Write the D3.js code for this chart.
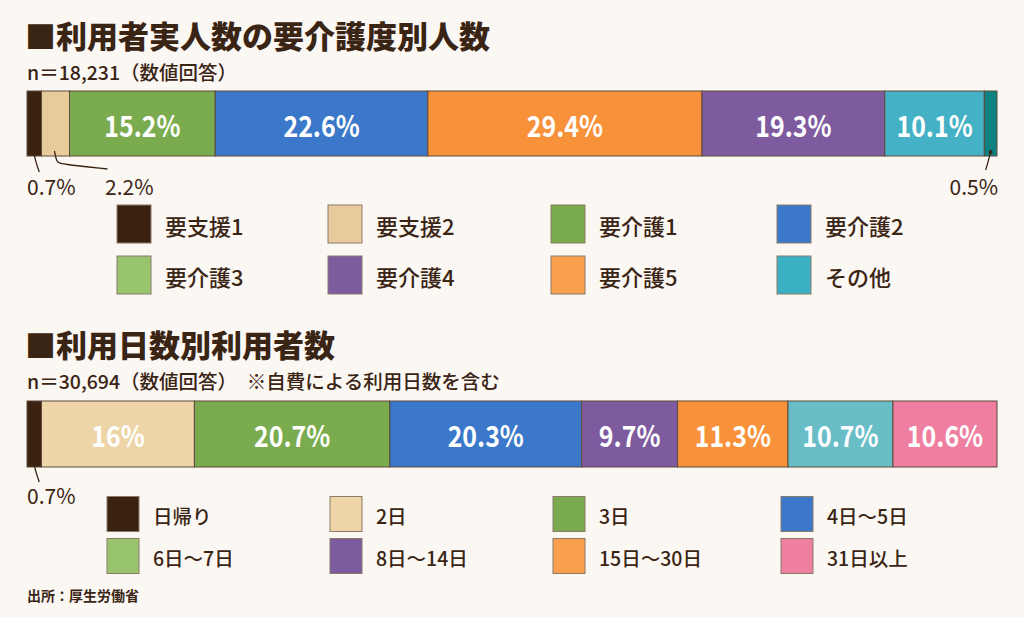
<!DOCTYPE html>
<html>
<head>
<meta charset="utf-8">
<script src="https://cdn.jsdelivr.net/npm/d3@7"></script>
<style>
html,body{margin:0;padding:0;background:#fbf7f3;}
svg{display:block;font-family:"Noto Sans CJK JP","Noto Sans",sans-serif;}
</style>
</head>
<body>
<div id="chart"></div>
<script>
// 要介護度別
const careKeys = ["要支援1","要支援2","要介護1","要介護2","要介護3","要介護4","要介護5","その他"];
const careValues = [0.7,2.2,15.2,22.6,29.4,19.3,10.1,0.5];
const careBarColors = ["#3b2210","#e8cb9a","#7aab4f","#3c78c9","#f8923a","#7e5b9e","#45b1c6","#0e8282"];
const careLegendColors = ["#3b2210","#e8cb9a","#7aab4f","#3c78c9","#97c46c","#7e5b9e","#f9a04f","#3bb0c4"];

// 利用日数別
const dayKeys = ["日帰り","2日","3日","4日～5日","8日～14日","15日～30日","6日～7日","31日以上"];
const dayValues = [0.7,16,20.7,20.3,9.7,11.3,10.7,10.6];
const dayBarColors = ["#3b2210","#eed5a8","#7aab4f","#3c78c9","#7e5b9e","#f8923a","#69bdc7","#ee7fa0"];
const dayLegendKeys = ["日帰り","2日","3日","4日～5日","6日～7日","8日～14日","15日～30日","31日以上"];
const dayLegendColors = ["#3b2210","#eed5a8","#7aab4f","#3c78c9","#97c46c","#7e5b9e","#f9a04f","#ee7fa0"];

const width = 1024, height = 617;
const ink = "#3a2414";

const svg = d3.select("#chart")
  .append("svg")
  .attr("width", width)
  .attr("height", height);

svg.append("rect")
  .attr("width", width)
  .attr("height", height)
  .attr("fill", "#fbf7f3");

// 各区分に少し幅を足して小さい値も見えるようにする
const base = 0.9;

function layout(values){
  let acc = 0;
  return values.map((v,i)=>{
    const d = {i, v, x0: acc, x1: acc + v + base};
    acc = d.x1;
    return d;
  });
}

function fmt(v){
  return (Number.isInteger(v) ? v : v.toFixed(1)) + "%";
}

function drawBar(values, colors, top, h){
  const segs = layout(values);
  const x = d3.scaleLinear()
    .domain([0, d3.max(segs, d=>d.x1)])
    .range([27, 997]);

  const g = svg.append("g");

  g.selectAll("rect")
    .data(segs)
    .enter()
    .append("rect")
    .attr("x", d=>x(d.x0))
    .attr("y", top)
    .attr("width", d=>x(d.x1)-x(d.x0))
    .attr("height", h)
    .attr("fill", d=>colors[d.i])
    .attr("stroke", "#5e4a3a")
    .attr("stroke-width", 1);

  // 数字は少し縦長に
  g.selectAll("text")
    .data(segs.filter(d=>d.v >= 3))
    .enter()
    .append("text")
    .attr("transform", d=>`translate(${(x(d.x0)+x(d.x1))/2},${top + h/2 + 1}) scale(0.86,1)`)
    .attr("text-anchor", "middle")
    .attr("dominant-baseline", "central")
    .attr("fill", "#fff")
    .style("font-size", "29px")
    .style("font-weight", "700")
    .text(d=>fmt(d.v));

  return {x, segs};
}

function leader(points){
  svg.append("path")
    .attr("d", d3.line().curve(d3.curveBasis)(points))
    .attr("fill", "none")
    .attr("stroke", ink)
    .attr("stroke-width", 1.3);
}

function outsideLabel(txt, x, y, anchor){
  svg.append("text")
    .attr("x", x)
    .attr("y", y)
    .attr("text-anchor", anchor)
    .attr("dominant-baseline", "central")
    .attr("fill", ink)
    .style("font-size", "21px")
    .text(txt);
}

function title(txt, y){
  svg.append("text")
    .attr("x", 25)
    .attr("y", y)
    .attr("dominant-baseline", "central")
    .attr("fill", ink)
    .style("font-size", "31px")
    .style("font-weight", "900")
    .text(txt);
}

function subtitle(txt, y){
  svg.append("text")
    .attr("x", 27)
    .attr("y", y)
    .attr("dominant-baseline", "central")
    .attr("fill", ink)
    .style("font-size", "19.5px")
    .style("font-weight", "500")
    .text(txt);
}

function legend(keys, colors, cols, rows, sw, sh, fontSize, gap){
  const items = keys.map((k,i)=>({k, c: colors[i], col: i%4, row: Math.floor(i/4)}));
  const g = svg.append("g");
  const it = g.selectAll("g")
    .data(items)
    .enter()
    .append("g")
    .attr("transform", d=>`translate(${cols[d.col]},${rows[d.row]})`);
  it.append("rect")
    .attr("x", 0)
    .attr("y", -sh/2)
    .attr("width", sw)
    .attr("height", sh)
    .attr("fill", d=>d.c)
    .attr("stroke", "#8a7a6a")
    .attr("stroke-width", 1);
  it.append("text")
    .attr("x", sw + gap)
    .attr("y", 1)
    .attr("dominant-baseline", "central")
    .attr("fill", ink)
    .style("font-size", fontSize + "px")
    .style("font-weight", "500")
    .text(d=>d.k);
}

// 上段
title("■利用者実人数の要介護度別人数", 34);
subtitle("n＝18,231（数値回答）", 71);

const bar1 = drawBar(careValues, careBarColors, 91, 65);
{
  const {x, segs} = bar1;
  const c0 = (x(segs[0].x0)+x(segs[0].x1))/2;
  const c1 = (x(segs[1].x0)+x(segs[1].x1))/2;
  const c7 = (x(segs[7].x0)+x(segs[7].x1))/2;
  leader([[c0-1,150],[c0+1,160],[c0+5,172]]);
  leader([[c1-1,151],[c1+1,162],[c1+5,164],[c1+52,169]]);
  leader([[c7,151],[c7-2,160],[c7-5,170]]);
  svg.append("circle").attr("cx", c7).attr("cy", 152).attr("r", 2).attr("fill", ink);
  outsideLabel(fmt(careValues[0]), 27, 186, "start");
  outsideLabel(fmt(careValues[1]), 105, 186, "start");
  outsideLabel(fmt(careValues[7]), 998, 186, "end");
}

legend(careKeys, careLegendColors, [117,328,551,777], [224,275], 34, 38, 22, 14);

// 下段
title("■利用日数別利用者数", 343);
subtitle("n＝30,694（数値回答）　※自費による利用日数を含む", 380);

const bar2 = drawBar(dayValues, dayBarColors, 401, 66);
{
  const {x, segs} = bar2;
  const c0 = (x(segs[0].x0)+x(segs[0].x1))/2;
  leader([[c0-1,460],[c0+1,470],[c0+5,482]]);
  outsideLabel(fmt(dayValues[0]), 27, 495, "start");
}

legend(dayLegendKeys, dayLegendColors, [107,330,553,781], [514,556], 32, 35, 19.5, 14);

svg.append("text")
  .attr("x", 27)
  .attr("y", 595)
  .attr("dominant-baseline", "central")
  .attr("fill", ink)
  .style("font-size", "14px")
  .style("font-weight", "700")
  .text("出所：厚生労働省");
</script>
</body>
</html>
